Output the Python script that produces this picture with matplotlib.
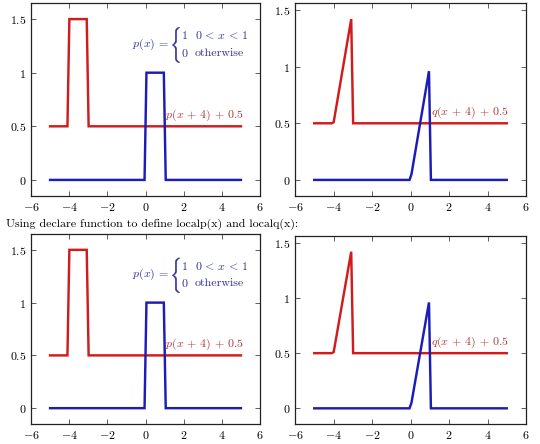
import matplotlib
matplotlib.use("Agg")
import matplotlib.pyplot as plt
from matplotlib.textpath import TextPath
from matplotlib.patches import PathPatch
from matplotlib.transforms import Affine2D

plt.rcParams['mathtext.fontset'] = 'cm'
plt.rcParams['font.family'] = ['cmr10', 'DejaVu Serif']

p_x = [-5, -0.05, 0.05, 0.96, 1.06, 5]
p_y = [0, 0, 1, 1, 0, 0]
p_shift_x = [-5, -4.09, -3.99, -3.08, -2.98, 5]
p_shift_y = [0.5, 0.5, 1.5, 1.5, 0.5, 0.5]

q_x = [-5, -0.05, 0.05, 0.96, 1.06, 5]
q_y = [0, 0, 0.05, 0.96, 0, 0]
q_shift_x = [-5, -4.09, -3.99, -3.08, -2.98, 5]
q_shift_y = [0.5, 0.5, 0.51, 1.42, 0.5, 0.5]

xticks = [-6, -4, -2, 0, 2, 4, 6]
xtick_labels = ['$-6$', '$-4$', '$-2$', '$0$', '$2$', '$4$', '$6$']
yticks = [0, 0.5, 1, 1.5]
ytick_labels = ['$0$', '$0.5$', '$1$', '$1.5$']

RED = '#d01c1c'
BLUE = '#1c1cb8'
RED_TXT = '#b03838'
BLUE_TXT = '#30309a'
FS = 8.6

W, H = 540, 444
fig = plt.figure(figsize=(W / 100, H / 100), dpi=100)


def make_axes(l, t, r, b):
    return fig.add_axes([l / W, 1 - b / H, (r - l) / W, (b - t) / H])


def style(ax):
    ax.margins(x=0.1, y=0.1)
    ax.set_xticks(xticks)
    ax.set_xticklabels(xtick_labels)
    ax.set_yticks(yticks)
    ax.set_yticklabels(ytick_labels)
    ax.set_xlim(-6, 6)
    ax.tick_params(direction='in', top=True, right=True, length=3.5,
                   width=0.6, labelsize=FS, pad=3.5, color='#444444')
    for s in ax.spines.values():
        s.set_linewidth(0.9)
        s.set_color('#222222')


def brace(ax, x0, y0, w, h):
    # a tall curly brace squeezed into a box given in axes coords
    tp = TextPath((0, 0), r'$\{$', size=10)
    ext = tp.get_extents()
    t = (Affine2D().translate(-ext.x0, -ext.y0)
         .scale(w / ext.width, h / ext.height).translate(x0, y0)
         + ax.transAxes)
    ax.add_patch(PathPatch(tp, transform=t, facecolor=BLUE_TXT,
                           edgecolor=BLUE_TXT, lw=0.3, clip_on=False))


def draw_p(ax):
    ax.plot(p_shift_x, p_shift_y, color=RED, lw=1.75, solid_joinstyle='miter')
    ax.plot(p_x, p_y, color=BLUE, lw=1.75, solid_joinstyle='miter')
    style(ax)
    ax.text(5.15, 0.53, r'$p(x\,+\,4)\,+\,0.5$', color=RED_TXT, fontsize=FS,
            ha='right', va='bottom')
    # piecewise definition
    tr = ax.transAxes
    ax.text(0.44, 0.788, '$p(x)\\,=$', transform=tr, color=BLUE_TXT,
            fontsize=FS, ha='left', va='center')
    brace(ax, 0.618, 0.69, 0.03, 0.185)
    ax.text(0.656, 0.834, '$1$', transform=tr, color=BLUE_TXT,
            fontsize=FS, ha='left', va='center')
    ax.text(0.656, 0.741, '$0$', transform=tr, color=BLUE_TXT,
            fontsize=FS, ha='left', va='center')
    ax.text(0.716, 0.834, r'$0\,<\,x\,<\,1$', transform=tr,
            color=BLUE_TXT, fontsize=FS, ha='left', va='center')
    ax.text(0.716, 0.741, 'otherwise', transform=tr,
            color=BLUE_TXT, fontsize=FS, ha='left', va='center')


def draw_q(ax):
    ax.plot(q_shift_x, q_shift_y, color=RED, lw=1.75, solid_joinstyle='miter')
    ax.plot(q_x, q_y, color=BLUE, lw=1.75, solid_joinstyle='miter')
    style(ax)
    ax.text(5.1, 0.53, r'$q(x\,+\,4)\,+\,0.5$', color=RED_TXT, fontsize=FS,
            ha='right', va='bottom')


draw_p(make_axes(31, 3, 260, 196))
draw_q(make_axes(295, 3, 526, 196))
draw_p(make_axes(31, 234, 260, 424))
draw_q(make_axes(295, 236, 526, 424))

fig.text(6 / W, 1 - 224 / H,
         'Using declare function to define localp(x) and localq(x):',
         fontsize=FS, ha='left', va='center')

fig.savefig('out.png', dpi=100)
